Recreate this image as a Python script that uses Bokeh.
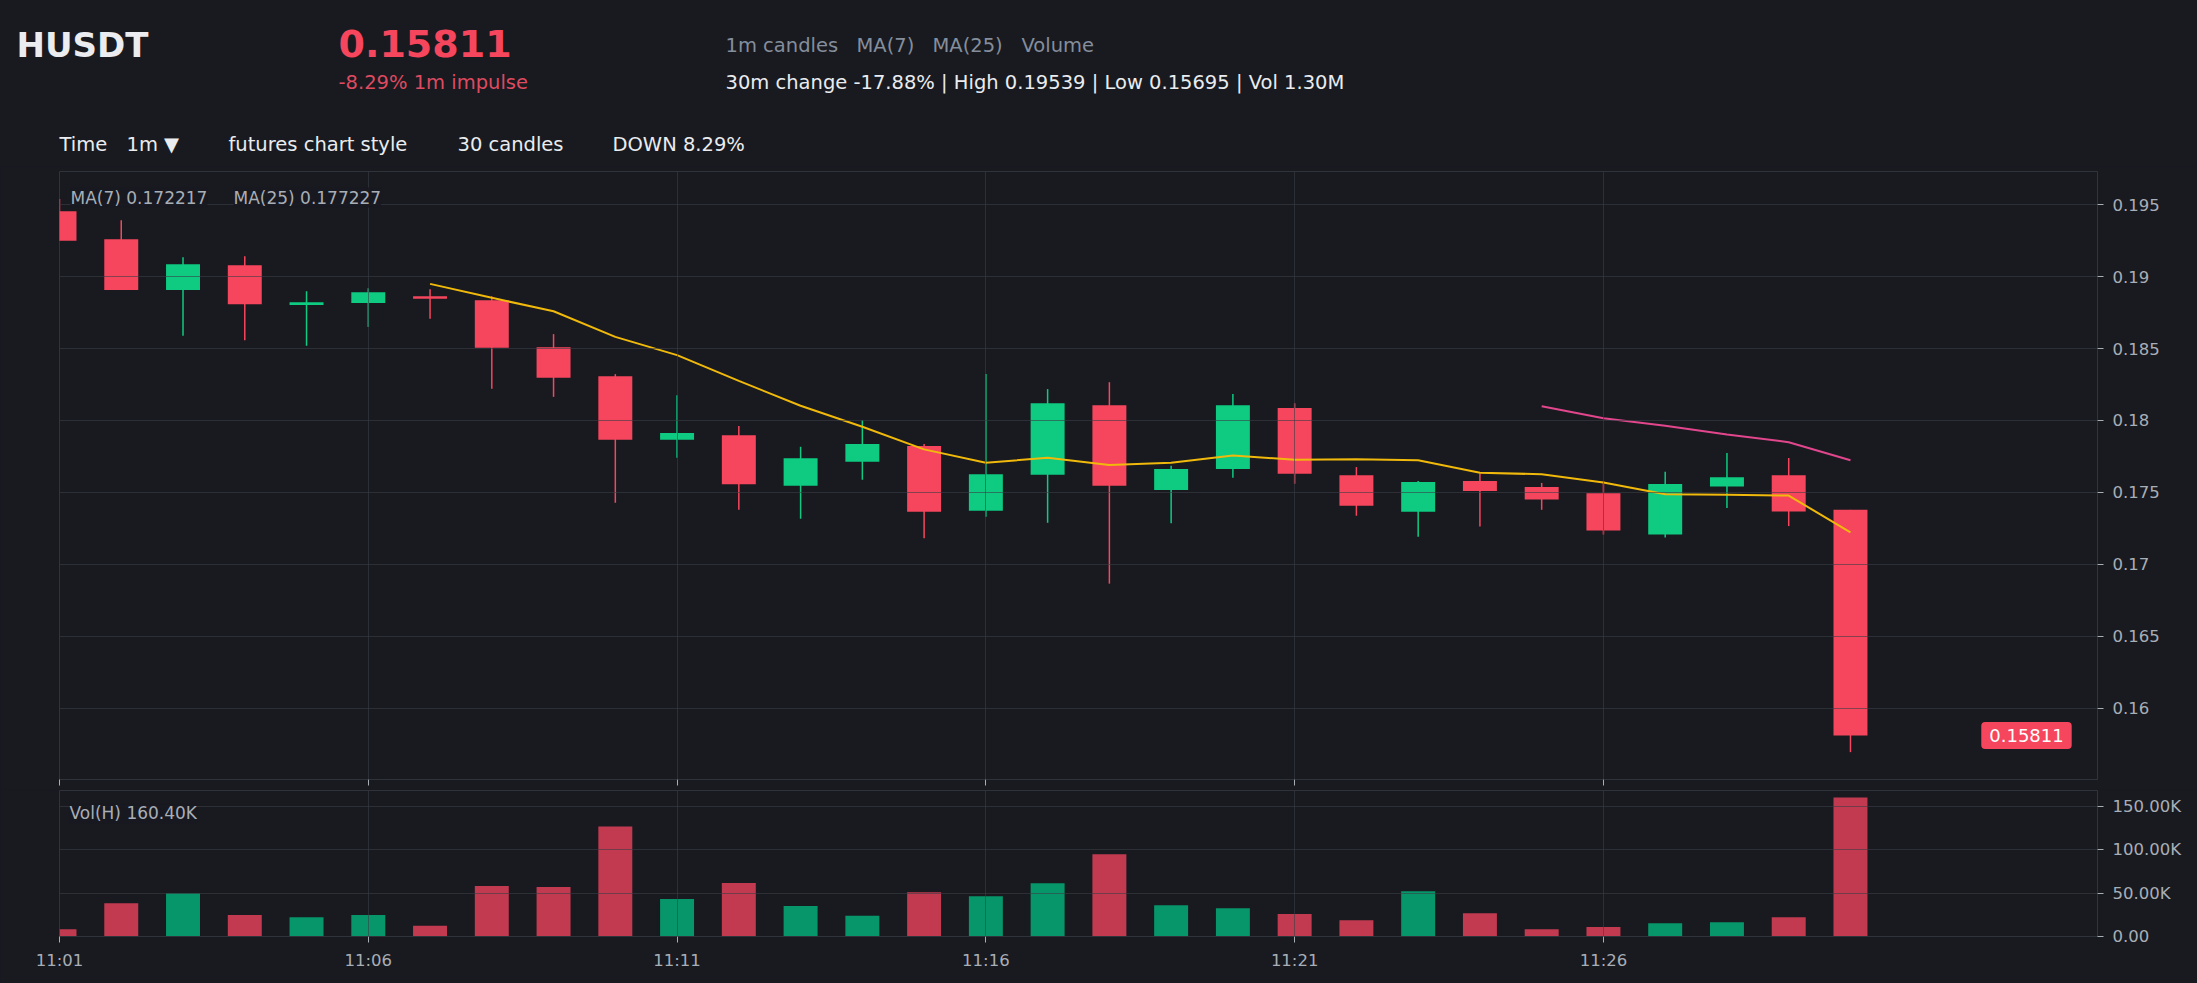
from bokeh.plotting import figure
from bokeh.layouts import column
from bokeh.models import Range1d, FixedTicker, Label, ColumnDataSource, CustomLabelingPolicy
from bokeh.embed import file_html
from bokeh.resources import INLINE

# ---------------- data ----------------
times = ["11:01", "11:02", "11:03", "11:04", "11:05", "11:06", "11:07", "11:08", "11:09", "11:10",
         "11:11", "11:12", "11:13", "11:14", "11:15", "11:16", "11:17", "11:18", "11:19", "11:20",
         "11:21", "11:22", "11:23", "11:24", "11:25", "11:26", "11:27", "11:28", "11:29", "11:30"]
opens = [0.19454, 0.19259, 0.18907, 0.19079, 0.18803, 0.18817, 0.18863, 0.18836, 0.18509, 0.18308,
         0.17866, 0.17898, 0.17546, 0.17713, 0.17822, 0.17373, 0.17623, 0.18106, 0.17516, 0.17662,
         0.18086, 0.17620, 0.17366, 0.17580, 0.17538, 0.17495, 0.17207, 0.17541, 0.17620, 0.17379]
highs = [0.19539, 0.19391, 0.19134, 0.19141, 0.18898, 0.18919, 0.18912, 0.18863, 0.18600, 0.18322,
         0.18176, 0.17961, 0.17817, 0.18002, 0.17836, 0.18322, 0.18218, 0.18266, 0.17685, 0.18183,
         0.18120, 0.17676, 0.17580, 0.17631, 0.17566, 0.17578, 0.17643, 0.17773, 0.17739, 0.17379]
lows = [0.19248, 0.18907, 0.18588, 0.18558, 0.18519, 0.18650, 0.18706, 0.18220, 0.18164, 0.17428,
        0.17741, 0.17380, 0.17317, 0.17588, 0.17181, 0.17331, 0.17289, 0.16866, 0.17285, 0.17602,
        0.17560, 0.17338, 0.17192, 0.17263, 0.17379, 0.17207, 0.17187, 0.17391, 0.17266, 0.15695]
closes = [0.19248, 0.18907, 0.19086, 0.18808, 0.18822, 0.18891, 0.18845, 0.18505, 0.18296, 0.17866,
          0.17912, 0.17556, 0.17738, 0.17836, 0.17366, 0.17627, 0.18120, 0.17546, 0.17662, 0.18106,
          0.17630, 0.17407, 0.17572, 0.17510, 0.17450, 0.17235, 0.17558, 0.17606, 0.17368, 0.15811]
volumes = [8400, 38400, 49900, 24900, 22300, 24900, 12300, 58300, 57200, 127000,
           43400, 61800, 35300, 23800, 51000, 46400, 61400, 94800, 36000, 32600,
           26000, 18800, 52200, 26900, 8400, 11100, 15300, 16500, 22300, 160400]
ma7_start = 6
ma7_values = [0.18949, 0.18852, 0.18759, 0.18581, 0.18454, 0.18275, 0.18102, 0.17956, 0.17799, 0.17706,
              0.17741, 0.17690, 0.17706, 0.17757, 0.17727, 0.17731, 0.17723, 0.17637, 0.17626, 0.17569,
              0.17487, 0.17484, 0.17478, 0.17222]
ma25_start = 24
ma25_values = [0.18099, 0.18016, 0.17963, 0.17903, 0.17849, 0.17723]

x_tick_idx = [0, 5, 10, 15, 20, 25]
price_ticks = [0.16, 0.165, 0.17, 0.175, 0.18, 0.185, 0.19, 0.195]
price_tick_labels = ["0.16", "0.165", "0.17", "0.175", "0.18", "0.185", "0.19", "0.195"]
vol_ticks = [0, 50000, 100000, 150000]
vol_tick_labels = ["0.00", "50.00K", "100.00K", "150.00K"]

# ---------------- style ----------------
BG = "#181a20"
UP = "#0ecb81"
DOWN = "#f6465d"
VUP = "#079669"
VDOWN = "#c23a50"
GRID = "#3a3e46"
OUTLINE = "#2f333a"
AXIS_TXT = "#a8aeb6"
WHITE = "#eaecef"
GRAY = "#848e9c"
FONT = "DejaVu Sans"
LEFT, RIGHT, FRAME_W = 59, 100, 2038

n = len(times)
idx = list(range(n))
up = [c >= o for o, c in zip(opens, closes)]
src = ColumnDataSource(dict(
    x=idx, high=highs, low=lows,
    top=[max(o, c) for o, c in zip(opens, closes)],
    bottom=[min(o, c) for o, c in zip(opens, closes)],
    color=[UP if u else DOWN for u in up],
    vcolor=[VUP if u else VDOWN for u in up],
    vol=volumes,
))

# ---------------- header (pixel-like coordinates) ----------------
HEAD_W, HEAD_H = 2197, 166
header = figure(width=HEAD_W, height=HEAD_H,
                x_range=Range1d(0, HEAD_W), y_range=Range1d(HEAD_H, 0),
                output_backend="svg", toolbar_location=None, min_border=0,
                x_axis_location=None, y_axis_location=None,
                background_fill_color=BG, border_fill_color=BG, outline_line_color=None)
header.grid.visible = False


def hlabel(x, baseline, text, size, color, bold=False):
    header.add_layout(Label(x=x, y=baseline - 0.385 * size, text=text, text_font=FONT,
                            text_font_size=f"{size}px", text_color=color,
                            text_baseline="alphabetic", text_align="left",
                            text_font_style="bold" if bold else "normal"))


hlabel(16, 58, "HUSDT", 34, WHITE, True)
hlabel(338, 58, "0.15811", 38, DOWN, True)
hlabel(338, 90, "-8.29% 1m impulse", 19.5, "#de4a60")
hlabel(725, 53, "1m candles", 19.5, GRAY)
hlabel(856, 53, "MA(7)", 19.5, GRAY)
hlabel(932, 53, "MA(25)", 19.5, GRAY)
hlabel(1021, 53, "Volume", 19.5, GRAY)
hlabel(725, 90, "30m change -17.88% | High 0.19539 | Low 0.15695 | Vol 1.30M", 19.5, WHITE)
hlabel(59, 152, "Time", 19.5, WHITE)
hlabel(126, 152, "1m \u25BC", 19.5, WHITE)
hlabel(228, 152, "futures chart style", 19.5, WHITE)
hlabel(457, 152, "30 candles", 19.5, WHITE)
hlabel(612, 152, "DOWN 8.29%", 19.5, WHITE)

# ---------------- price panel ----------------
price = figure(frame_width=FRAME_W, frame_height=608, x_range=Range1d(0, 33),
               y_range=Range1d(0.15505, 0.1973), y_axis_location="right",
               output_backend="svg", toolbar_location=None,
               min_border_left=LEFT, min_border_right=RIGHT, min_border_top=5, min_border_bottom=0,
               background_fill_color=BG, border_fill_color=BG, outline_line_color=OUTLINE)

price.segment(x0="x", y0="low", x1="x", y1="high", line_color="color", line_width=1.5, source=src)
price.vbar(x="x", width=0.55, top="top", bottom="bottom", fill_color="color", line_color=None, source=src)
price.line(idx[ma7_start:ma7_start + len(ma7_values)], ma7_values, line_color="#f0b90b", line_width=2)
price.line(idx[ma25_start:ma25_start + len(ma25_values)], ma25_values, line_color="#e2468d", line_width=2)

price.xaxis.ticker = FixedTicker(ticks=x_tick_idx)
price.xaxis.major_label_policy = CustomLabelingPolicy(code="""
    for (const i of Array.from(indices)) { indices.unset(i) }
    return indices
""")
price.xaxis.major_label_overrides = {i: times[i] for i in x_tick_idx}
price.xaxis.major_label_text_font_size = "1px"
price.xaxis.major_label_standoff = 0
price.xaxis.major_tick_out = 6
price.xaxis.major_tick_in = 0
price.xaxis.minor_tick_line_color = None
price.xaxis.axis_line_color = OUTLINE
price.xaxis.major_tick_line_color = AXIS_TXT

price.yaxis.ticker = FixedTicker(ticks=price_ticks)
price.yaxis.major_label_overrides = dict(zip(price_ticks, price_tick_labels))
price.yaxis.major_label_text_font = FONT
price.yaxis.major_label_text_font_size = "16.5px"
price.yaxis.major_label_text_color = AXIS_TXT
price.yaxis.major_tick_out = 6
price.yaxis.major_tick_in = 0
price.yaxis.major_label_standoff = 9
price.yaxis.minor_tick_line_color = None
price.yaxis.axis_line_color = OUTLINE
price.yaxis.major_tick_line_color = AXIS_TXT

for g in (price.xgrid, price.ygrid):
    g.grid_line_color = GRID
    g.grid_line_alpha = 0.6
    g.level = "guide"
price.xgrid.ticker = FixedTicker(ticks=x_tick_idx)
price.ygrid.ticker = FixedTicker(ticks=price_ticks)

price.add_layout(Label(x=0.178, y=0.19549, text="MA(7) 0.172217", text_font=FONT, text_font_size="17px",
                       text_color=AXIS_TXT, text_baseline="alphabetic",
                       background_fill_color=BG, background_fill_alpha=0.9))
price.add_layout(Label(x=2.817, y=0.19549, text="MA(25) 0.177227", text_font=FONT, text_font_size="17px",
                       text_color=AXIS_TXT, text_baseline="alphabetic",
                       background_fill_color=BG, background_fill_alpha=0.9))
price.add_layout(Label(x=31.85, y=closes[-1], text="0.15811", text_font=FONT, text_font_size="18px",
                       text_color="#ffffff", text_align="center", text_baseline="middle",
                       background_fill_color=DOWN, padding=(8, 7), border_radius=4))

# ---------------- volume panel ----------------
vol = figure(frame_width=FRAME_W, frame_height=146, x_range=price.x_range,
             y_range=Range1d(0, 168420), y_axis_location="right",
             output_backend="svg", toolbar_location=None,
             min_border_left=LEFT, min_border_right=RIGHT, min_border_top=1, min_border_bottom=49,
             background_fill_color=BG, border_fill_color=BG, outline_line_color=OUTLINE)
vol.vbar(x="x", width=0.55, top="vol", bottom=0, fill_color="vcolor", line_color=None, source=src)

vol.xaxis.ticker = FixedTicker(ticks=x_tick_idx)
vol.xaxis.major_label_overrides = {i: times[i] for i in x_tick_idx}
vol.xaxis.major_label_text_font = FONT
vol.xaxis.major_label_text_font_size = "16.5px"
vol.xaxis.major_label_text_color = AXIS_TXT
vol.xaxis.major_tick_out = 6
vol.xaxis.major_tick_in = 0
vol.xaxis.major_label_standoff = 8
vol.xaxis.minor_tick_line_color = None
vol.xaxis.axis_line_color = OUTLINE
vol.xaxis.major_tick_line_color = AXIS_TXT

vol.yaxis.ticker = FixedTicker(ticks=vol_ticks)
vol.yaxis.major_label_overrides = dict(zip(vol_ticks, vol_tick_labels))
vol.yaxis.major_label_text_font = FONT
vol.yaxis.major_label_text_font_size = "16.5px"
vol.yaxis.major_label_text_color = AXIS_TXT
vol.yaxis.major_tick_out = 6
vol.yaxis.major_tick_in = 0
vol.yaxis.major_label_standoff = 9
vol.yaxis.minor_tick_line_color = None
vol.yaxis.axis_line_color = OUTLINE
vol.yaxis.major_tick_line_color = AXIS_TXT

for g in (vol.xgrid, vol.ygrid):
    g.grid_line_color = GRID
    g.grid_line_alpha = 0.6
    g.level = "guide"
vol.xgrid.ticker = FixedTicker(ticks=x_tick_idx)
vol.ygrid.ticker = FixedTicker(ticks=vol_ticks)

vol.add_layout(Label(x=0.162, y=142000, text="Vol(H) 160.40K", text_font=FONT, text_font_size="17px",
                     text_color=AXIS_TXT, text_baseline="alphabetic",
                     background_fill_color=BG, background_fill_alpha=0.9))

charts = column(price, vol, spacing=0, styles={"background-color": BG})
layout = column(header, charts, spacing=0, styles={"background-color": BG})
open("out.html", "w").write(file_html(layout, INLINE, title="HUSDT"))
